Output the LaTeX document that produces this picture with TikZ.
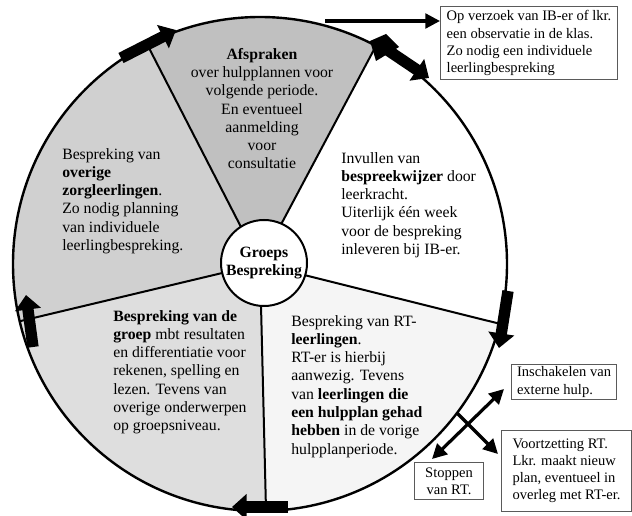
\documentclass[tikz,border=0pt]{standalone}
\usepackage{fontspec}
\setmainfont{Liberation Serif}
\usetikzlibrary{arrows.meta,calc}
\definecolor{cAfs}{RGB}{192,192,192}
\definecolor{cOver}{RGB}{208,208,208}
\definecolor{cGroep}{RGB}{222,222,222}
\definecolor{cRT}{RGB}{245,245,245}
\definecolor{cBox}{RGB}{90,90,90}
\newcommand\mainsize{\fontsize{11.8pt}{13.7pt}\selectfont}
\newcommand\boxsize{\fontsize{10.9pt}{12.8pt}\selectfont}
\begin{document}
\begin{tikzpicture}[x=0.75pt, y=0.75pt,
  txt/.style={inner sep=0pt, align=left, anchor=north west, font=\mainsize},
  ctxt/.style={inner sep=0pt, align=center, anchor=north, font=\mainsize},
  infobox/.style={draw=cBox, line width=0.8pt, fill=white, inner sep=0pt, anchor=north west, font=\boxsize, align=left},
  divider/.style={line width=1.5pt},
  rim/.style={line width=1.8pt},
  conn/.style={line width=2.4pt, -{Triangle[length=11pt,width=11pt]}},
  conntwo/.style={line width=2.4pt, {Triangle[length=11pt,width=11pt]}-{Triangle[length=11pt,width=11pt]}},
  blk/.style={line width=8.5pt, -{Triangle[length=11pt,width=19pt]}}
]
\useasboundingbox (0,0) rectangle (632,515);
\coordinate (C) at (260,251);
% sectors
\fill[cAfs] (C) -- ++(62:247) arc[start angle=62, end angle=117.2, radius=247] -- cycle;
\fill[cOver] (C) -- ++(117.2:247) arc[start angle=117.2, end angle=193.4, radius=247] -- cycle;
\fill[cGroep] (C) -- ++(193.4:247) arc[start angle=193.4, end angle=271.4, radius=247] -- cycle;
\fill[cRT] (C) -- ++(-88.6:247) arc[start angle=-88.6, end angle=-14, radius=247] -- cycle;
% dividers
\foreach \a in {62,117.2,193.4,-88.6,-14} \draw[divider] (C) -- ++(\a:247);
% outer circle
\draw[rim] (C) circle[radius=247];
% hub
\node[circle, draw, fill=white, line width=1.5pt, minimum size=64.5pt, inner sep=0pt, font=\mainsize\bfseries, align=center] (hub) at (264,252) {Groeps\\Bespreking};
% sector texts
\node[ctxt] (afs) at (262,467) {\textbf{Afspraken}\\over hulpplannen voor\\volgende periode.\\En eventueel\\aanmelding\\voor\\consultatie};
\node[txt] (inv) at (341,363) {Invullen van\\\textbf{bespreekwijzer} door\\leerkracht.\\Uiterlijk één week\\voor de bespreking\\inleveren bij IB-er.};
\node[txt] (ove) at (62,367) {Bespreking van\\\textbf{overige}\\\textbf{zorgleerlingen}.\\Zo nodig planning\\van individuele\\leerlingbespreking.};
\node[txt] (grp) at (113,205) {\textbf{Bespreking van de}\\\textbf{groep} mbt resultaten\\en differentiatie voor\\rekenen, spelling en\\lezen. Tevens van\\overige onderwerpen\\op groepsniveau.};
\node[txt] (rt) at (291,200) {Bespreking van RT-\\\textbf{leerlingen}.\\RT-er is hierbij\\aanwezig. Tevens\\van \textbf{leerlingen die}\\\textbf{een hulpplan gehad}\\\textbf{hebben} in de vorige\\hulpplanperiode.};
% boxes
\node[infobox, minimum width=132.75pt, minimum height=54.75pt] (b1) at (440,509) {Op verzoek van IB-er of lkr.\\een observatie in de klas.\\Zo nodig een individuele\\leerlingbespreking};
\node[infobox, minimum width=78.75pt, minimum height=26.25pt] (b2) at (511,151) {Inschakelen van\\externe hulp.};
\node[infobox, minimum width=97.5pt, minimum height=60.75pt] (b3) at (501,85) {Voortzetting RT.\\Lkr. maakt nieuw\\plan, eventueel in\\overleg met RT-er.};
\node[infobox, align=center, minimum width=51.75pt, minimum height=27.75pt] (b4) at (414,53) {Stoppen\\van RT.};
% block arrows on the rim
\draw[blk] (33,168) -- (26,220);
\draw[blk] (121,457) -- (176,485);
\fill (370,474) -- (386,481) -- (399,468) -- (376,454) -- cycle;
\draw[blk] (386,466) -- (429,437);
\draw[blk] (508,224) -- (499,167);
\draw[blk] (288,8) -- (232,8);
% connectors
\coordinate (topstart) at (325,494);
\draw[conn] (topstart) -- (topstart -| b1.west);
\coordinate (dA) at (432,56);
\coordinate (dB) at (504,126);
\draw[conntwo] (dA) -- (dB);
\coordinate (rimpt) at (457,102);
\coordinate (tipV) at (498,61);
\draw[conn] (rimpt) -- (tipV);
\end{tikzpicture}
\end{document}
